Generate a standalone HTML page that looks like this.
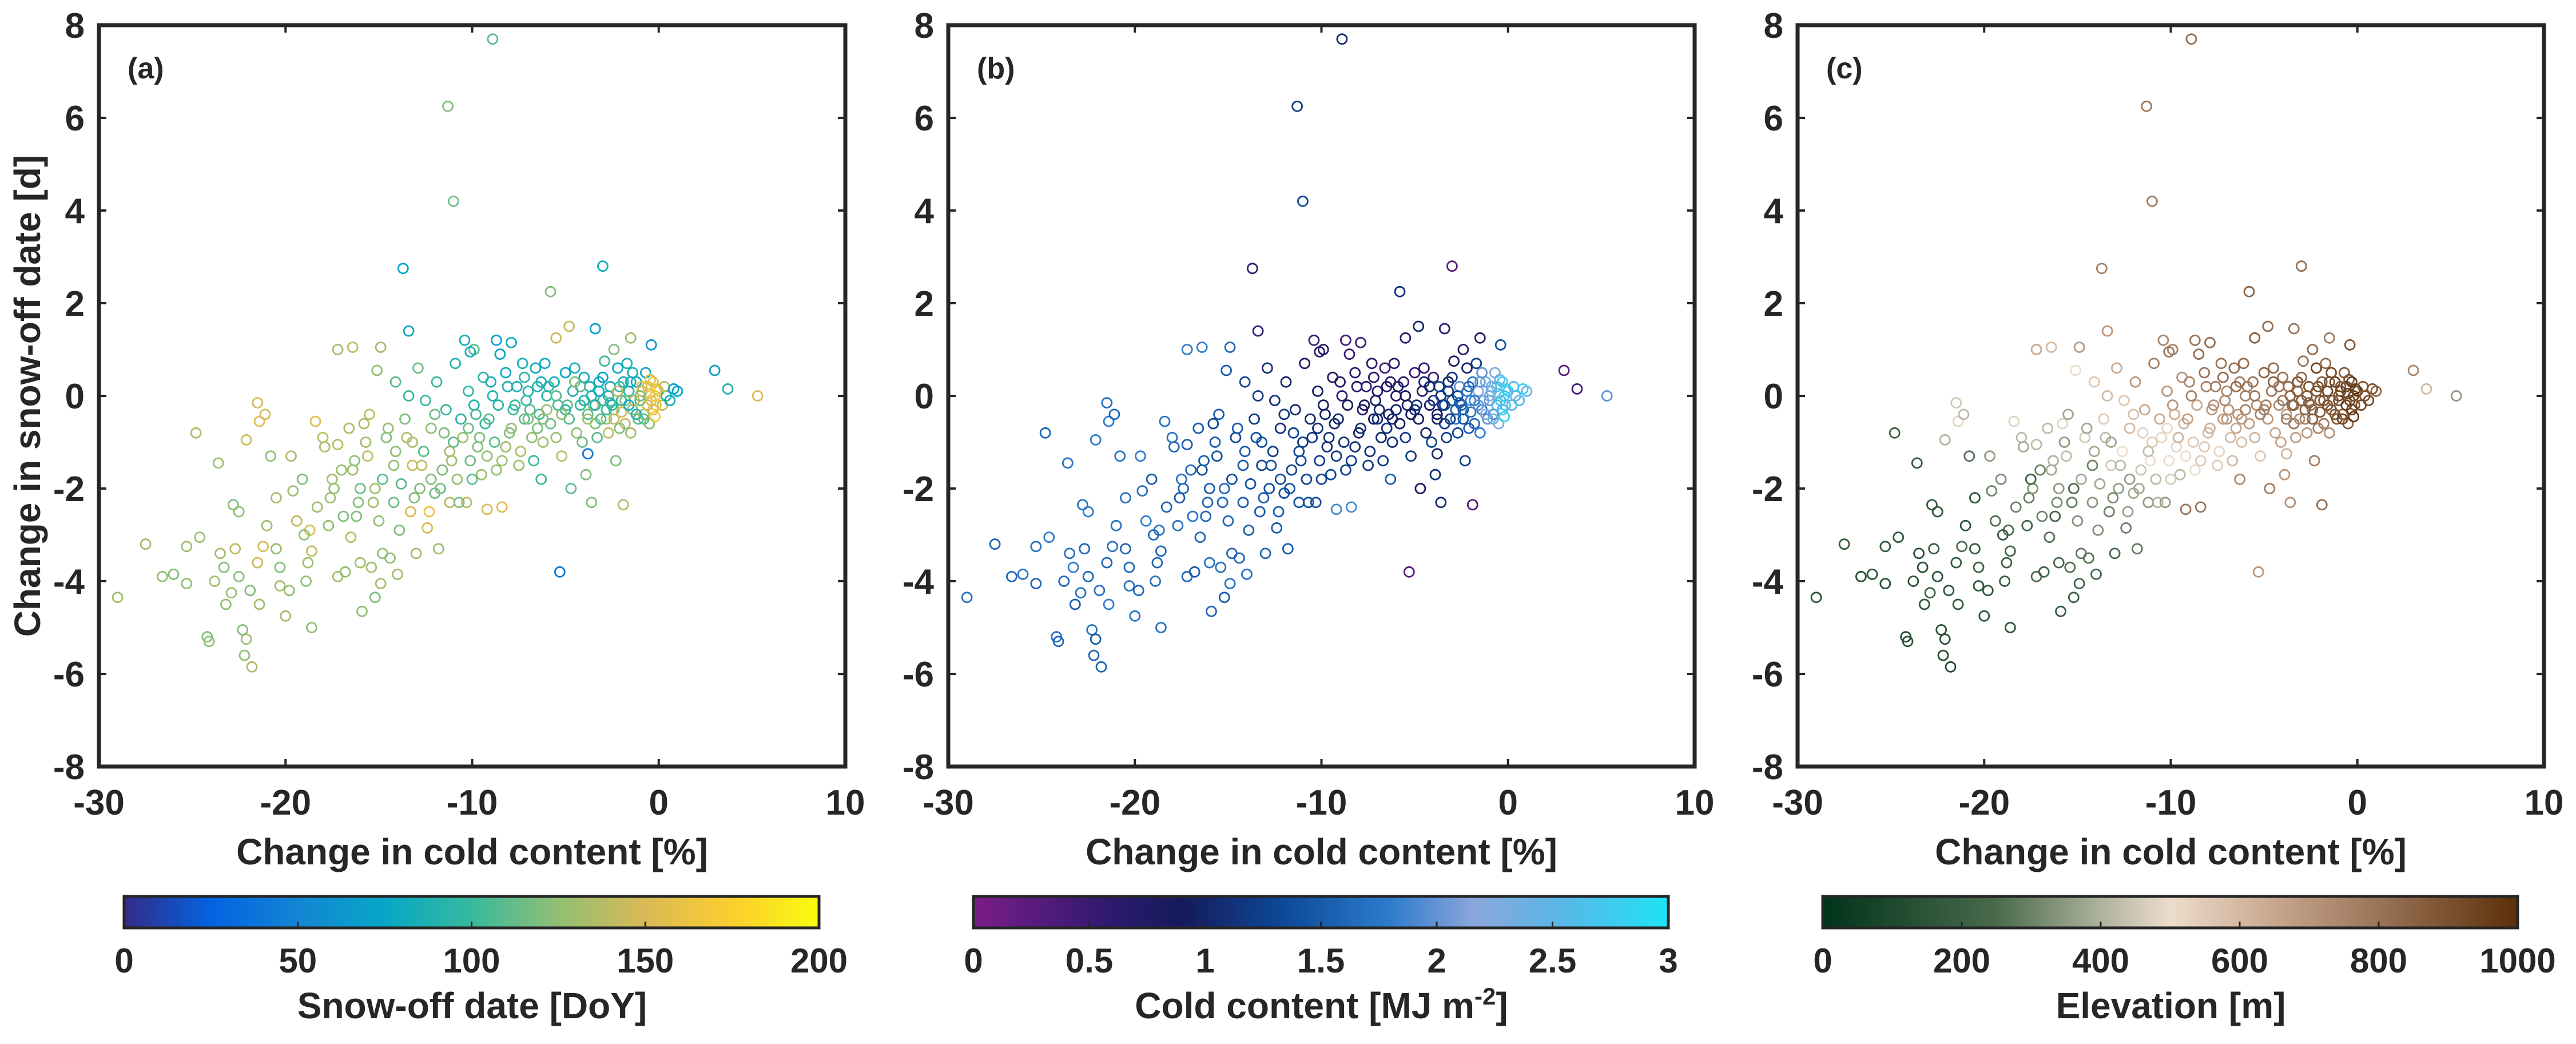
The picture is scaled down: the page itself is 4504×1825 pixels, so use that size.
<!DOCTYPE html>
<html><head><meta charset="utf-8">
<style>
html,body{margin:0;padding:0;background:#fff;}
svg{display:block;}
text{font-family:"Liberation Sans",Arial,sans-serif;font-weight:bold;fill:#262626;}
</style></head>
<body>
<svg id="fig" width="4504" height="1825" viewBox="0 0 4504 1825" xmlns="http://www.w3.org/2000/svg">
<defs>
<linearGradient id="gParula" x1="0" x2="1" y1="0" y2="0">
<stop offset="0" stop-color="#352a87"/><stop offset="0.125" stop-color="#0363e1"/><stop offset="0.25" stop-color="#1485d4"/><stop offset="0.375" stop-color="#06a7c6"/><stop offset="0.5" stop-color="#38b99e"/><stop offset="0.625" stop-color="#92bf73"/><stop offset="0.75" stop-color="#d9ba56"/><stop offset="0.875" stop-color="#fcce2e"/><stop offset="1" stop-color="#f9fb0e"/>
</linearGradient>
<linearGradient id="gCold" x1="0" x2="1" y1="0" y2="0">
<stop offset="0" stop-color="#7b1c88"/><stop offset="0.2" stop-color="#2d1a6e"/><stop offset="0.3" stop-color="#151a5c"/><stop offset="0.45" stop-color="#0d4a9a"/><stop offset="0.6" stop-color="#2e7ccc"/><stop offset="0.72" stop-color="#8aa6db"/><stop offset="0.85" stop-color="#58b8e8"/><stop offset="1" stop-color="#1fe3f5"/>
</linearGradient>
<linearGradient id="gElev" x1="0" x2="1" y1="0" y2="0">
<stop offset="0" stop-color="#00331a"/><stop offset="0.25" stop-color="#4a6a4c"/><stop offset="0.4" stop-color="#aeb39c"/><stop offset="0.5" stop-color="#eddccb"/><stop offset="0.65" stop-color="#c8a78e"/><stop offset="0.8" stop-color="#9a7458"/><stop offset="1" stop-color="#5c2f08"/>
</linearGradient>
</defs>
</svg>
<script>
// ---- data ----
const changeColdContent = [
-8.9,-11.3,-11,-13.7,-3,-5.8,-4.8,-13.4,-3.4,-10.4,-8.7,-7.9,-0.4,-1.5,-2.4,-17.2,-16.4,-14.9,-9.9,-10.1,-5.5,
3.0,3.7,5.3,1.0,-5.3,-3.8,-1.9,-3.6,-4.7,-3.9,-6.3,-2.3,-9.2,-8.4,
-29,-27.5,-26.6,-26,-25.3,-25.3,-24.8,-24.6,-24.2,-24.1,-23.8,-23.6,-23.3,-23.2,-22.9,-22.7,-22.5,-22.3,-22.2,-22.1,-21.8,-21.9,-21.5,-21.4,-21.2,
-22.8,-21.5,-21.4,-21.1,-20.8,-22.1,-20.5,-20.3,-20.3,-20,-19.8,-19.4,-19.6,-19.1,-18.8,-18.7,-18.6,-18.9,-19.7,-18.4,-18.3,-18,-17.9,-17.6,-17.4,
-17.2,-18.6,-17.2,-16.9,-16.8,-16.5,-16.4,-16.3,-16.1,-16,-16,-15.8,-15.6,-15.9,-15.4,-15.2,-15,-14.9,-14.8,-14.6,-14.4,-14.2,-14,-14.8,-13.9,
-13.8,-13.6,-13.3,-13.2,-13,-12.8,-12.6,-12.4,-12.2,-12,-11.8,-11.6,-11.4,-11.2,-11,-10.8,-10.6,-10.3,-10.1,-9.9,-9.7,-9.5,-9.3,-9.0,-8.8,
-8.6,-8.4,-8.2,-8.0,-7.8,-7.6,-7.4,-7.2,-7.0,-6.8,-6.6,-6.4,-6.2,-6.0,-5.8,-5.6,-5.4,-5.2,-5.0,-4.8,-4.6,-4.4,-4.2,-4.0,-3.8,
-3.6,-3.4,-3.2,-3.0,-2.8,-2.6,-2.4,-2.2,-2.0,-1.8,-1.6,-1.4,-1.2,-1.0,-0.8,-0.6,-0.4,-0.2,0.0,0.2,0.4,-0.3,-0.1,-0.5,-1.1,
-1.5,-2.1,-2.7,-3.3,-0.7,-1.7,-2.9,-4.5,-5.9,-6.9,-7.9,-8.9,-9.8,-10.5,-11.5,-12.5,-13.5,-14.5,-15.5,-12.9,-11.9,-10.9,-9.4,-8.5,-7.3,
-6.1,-15.1,-14.1,-13.4,-12.0,-10.2,-9.1,-8.1,-7.1,-6.5,-5.5,-4.1,-3.1,-2.5,-1.3,-0.9,-0.15,0.3,0.6,0.8,-0.45,-1.9,-3.7,-4.9,-6.3,
-7.7,-9.6,-11.1,-12.7,-14.1,-15.7,-17.0,-16.6,-13.1,-11.7,-10.0,-8.7,-7.5,-6.7,-17.7,-15.3,-12.3,-10.7,
-0.3,-0.6,-0.9,-1.2,-1.5,-1.8,-2.1,-2.4,-2.7,-3.0,-3.5,-4.0,-4.5,-5.0,-5.5,-6.0,-6.5,-7.0,-0.2,-0.8,-1.4,-2.0,-2.6,-3.2,-3.8,
-0.5,-1.0,-1.6,-2.2,-2.8,-3.4,-4.2,-5.2,-6.2,-7.2,-8.2,-9.2,-10.2,-11.2,-12.2,-13.2,-14.2,-15.2,-16.2,-17.5,-19.0,-20.5,-21.0,-22.5,-23.5
];
const changeSnowOff = [
7.7,6.25,4.2,2.75,2.8,2.25,1.5,1.4,1.45,1.2,1.2,1.15,1.1,1.25,1.0,1.0,1.05,1.05,1.0,0.95,1.25,
0.55,0.15,0.0,0.1,-3.8,-1.25,-2.35,-2.3,-2.0,-1.7,-1.8,-1.4,-2.45,-2.4,
-4.35,-3.2,-3.9,-3.85,-4.05,-3.25,-0.8,-3.05,-5.2,-5.3,-4.0,-1.45,-3.7,-4.5,-4.25,-3.3,-2.5,-5.05,-5.6,-5.25,-5.85,-4.2,-3.6,-4.5,-3.25,
-2.35,-0.15,-0.55,-0.4,-1.3,-0.95,-3.3,-4.1,-3.7,-4.75,-4.2,-2.7,-2.05,-1.8,-3.6,-2.9,-3.35,-4.0,-1.3,-0.55,-2.4,-0.9,-1.1,-2.2,-2.0,
-1.05,-5.0,-3.9,-2.6,-3.8,-3.05,-1.6,-1.4,-2.3,-3.6,-2.0,-0.6,-1.3,-4.65,-3.7,-4.35,-2.7,-4.05,-1.8,-0.9,-3.5,-2.3,-3.85,-3.4,-2.9,
-1.9,-0.5,-2.5,-1.5,-3.4,-2.0,-1.2,-2.85,-0.7,-2.1,-3.3,-1.6,-0.3,-2.3,-1.0,-1.8,-0.5,-2.3,-1.4,-0.2,-1.1,-1.7,-0.6,0.3,-1.0,
-0.2,-1.4,0.5,-0.8,-0.3,0.2,-1.2,-0.5,0.1,-0.9,0.6,-0.4,-1.0,0.0,-0.6,0.3,-0.2,-1.3,0.5,-0.5,0.1,-0.8,-0.2,0.4,-0.4,
0.0,-0.6,0.3,-0.1,-0.5,0.2,-0.3,0.6,-0.1,-0.6,0.1,-0.3,0.3,-0.1,-0.4,0.2,-0.1,0.0,0.1,-0.2,0.0,-0.3,0.15,-0.6,-0.5,
-0.8,-0.7,-0.8,-0.9,0.5,0.7,0.75,0.6,0.2,-0.3,-0.7,0.0,-0.4,-0.9,-0.8,-0.1,-0.9,-0.7,-0.4,0.6,0.3,0.7,0.4,0.9,0.7,
0.7,0.55,0.3,0.0,-0.4,0.1,-0.5,0.2,-0.1,-0.7,-0.9,-1.0,-0.5,-0.2,-0.1,0.2,-0.2,0.2,-0.1,0.15,0.35,0.3,0.2,-0.2,0.3,
-0.2,-0.9,-1.4,-1.5,-1.2,-1.0,-1.6,-0.7,-2.2,-2.0,-1.8,-1.6,-1.5,-1.4,-2.8,-2.3,-2.5,-2.3,
0.3,-0.2,0.1,-0.4,0.3,-0.1,0.2,-0.5,0.0,0.4,-0.2,-0.1,0.3,-0.3,0.0,-0.3,0.2,-0.5,-0.45,-0.5,0.5,-0.35,-0.15,0.1,-0.5,
0.05,0.0,-0.2,0.1,-0.3,-0.2,0.2,-0.4,-0.5,0.4,-1.1,-1.3,-0.7,-1.2,-1.8,-1.0,-1.5,-2.0,-2.6,-1.8,-3.0,-2.2,-2.8,-3.9,-3.4
];
const snowOffDoy = [
110,120,115,75,80,120,145,80,70,85,70,80,60,130,120,130,140,130,110,85,145,
70,90,150,75,40,40,135,120,110,120,100,120,150,155,
130,130,125,120,125,130,135,130,120,125,130,130,120,125,130,140,125,120,125,130,135,120,145,130,150,
120,150,155,150,125,145,125,130,120,130,125,140,130,120,130,150,140,125,135,155,130,140,135,130,125,
140,125,130,120,125,140,130,125,120,130,115,135,140,125,130,120,125,130,110,120,125,115,130,125,120,
110,120,150,145,130,120,110,150,125,115,130,120,100,135,110,125,95,140,115,90,120,130,100,85,110,
95,130,80,120,100,85,135,110,90,125,80,105,130,95,115,85,100,140,75,110,90,125,100,80,110,
90,120,80,100,130,85,110,75,95,140,90,120,80,100,130,160,150,165,170,140,90,155,160,120,110,
130,120,140,110,80,90,100,85,95,110,125,90,105,130,120,100,135,125,140,115,100,90,95,75,85,
80,125,110,100,115,95,110,90,100,120,130,115,105,95,150,160,165,140,80,70,155,85,90,110,85,
100,120,130,140,125,130,125,135,120,115,110,125,130,100,125,130,160,120,
160,150,140,90,80,120,100,140,90,70,130,85,120,95,110,130,90,120,170,110,85,150,100,80,130,
160,120,80,140,100,90,110,125,120,95,130,125,115,130,120,135,125,130,120,130,125,135,130,125,130
];
const coldContent = [
1.0,1.2,1.3,0.6,0.3,1.1,1.0,0.6,0.7,0.5,0.4,0.5,1.4,0.8,0.7,1.8,1.8,1.6,0.8,0.7,0.6,
0.3,0.4,2.0,2.4,0.3,1.0,0.4,1.0,0.9,1.1,1.5,1.2,1.9,1.9,
1.7,1.6,1.6,1.7,1.6,1.7,1.6,1.8,1.7,1.6,1.6,1.7,1.8,1.5,1.7,1.6,1.8,1.7,1.6,1.5,1.6,1.7,1.6,1.8,1.7,
1.7,1.7,1.8,1.6,1.7,1.8,1.6,1.7,1.6,1.7,1.6,1.8,1.7,1.5,1.6,1.7,1.6,1.7,1.8,1.7,1.6,1.7,1.6,1.5,1.6,
1.5,1.7,1.6,1.7,1.5,1.6,1.4,1.5,1.6,1.7,1.5,1.3,1.4,1.6,1.7,1.5,1.6,1.7,1.4,1.3,1.6,1.5,1.7,1.6,1.5,
1.4,1.2,1.5,1.3,1.6,1.4,1.2,1.5,1.1,1.4,1.5,1.3,1.0,1.4,1.2,1.3,1.0,1.4,1.2,0.9,1.1,1.3,1.0,0.7,1.1,
0.9,1.2,0.6,1.0,0.8,0.6,1.1,0.9,0.7,1.0,0.5,0.8,1.1,0.7,0.9,0.6,0.8,1.2,0.5,0.9,0.7,1.0,0.8,0.5,0.9,
1.0,1.2,0.9,1.5,1.7,2.0,1.4,1.0,1.9,1.6,2.2,1.8,2.4,2.0,1.9,2.5,2.6,2.7,2.8,2.5,2.3,2.6,2.9,2.2,2.0,
1.8,1.5,1.3,1.2,2.3,1.2,0.8,0.6,0.8,1.0,1.1,0.7,1.0,1.2,1.3,1.1,1.4,1.5,1.5,1.1,1.0,0.8,0.8,0.5,0.6,
0.6,1.5,1.3,1.2,1.2,0.9,1.0,0.8,0.9,1.1,1.2,1.3,1.2,1.6,2.1,2.3,2.7,2.5,2.6,2.8,2.5,1.8,1.3,1.1,0.7,
0.9,1.1,1.3,1.4,1.5,1.5,1.6,1.5,1.5,1.4,1.3,1.3,1.2,1.2,1.7,1.6,1.5,1.4,
2.8,2.6,2.4,2.2,2.0,1.8,1.6,1.4,1.3,1.2,1.1,1.2,1.0,1.1,0.9,1.0,0.8,1.1,2.9,2.4,2.0,1.7,1.5,1.2,1.0,
2.7,2.3,2.0,1.8,1.5,1.3,1.0,0.9,1.0,0.7,1.1,1.2,1.1,1.3,1.4,1.4,1.5,1.6,1.6,1.7,1.6,1.7,1.7,1.6,1.7
];
const elevation = [
820,800,780,760,820,850,820,700,800,750,800,830,880,780,830,650,600,700,760,800,870,
750,600,350,850,700,620,820,720,780,700,750,780,800,800,
150,180,120,150,130,170,200,160,120,140,150,170,130,150,200,180,160,140,120,130,110,150,180,160,250,
170,450,480,420,260,400,180,150,200,150,170,250,300,320,200,250,220,180,350,480,300,420,380,280,330,
420,150,250,300,220,260,380,400,320,240,350,480,420,180,260,200,330,220,380,450,260,340,230,280,330,
380,550,300,450,250,350,500,300,600,380,280,450,650,350,550,420,650,350,500,700,520,420,620,750,550,
650,550,800,600,700,780,520,680,750,600,820,700,580,760,680,800,720,560,850,700,780,650,730,820,700,
860,800,920,880,760,900,840,950,900,780,940,880,960,920,850,980,940,960,980,930,900,950,980,860,880,
720,750,700,680,880,820,800,830,780,700,620,760,640,520,480,560,420,380,380,640,700,760,720,820,800,
820,500,560,600,580,700,680,760,740,650,620,660,720,800,850,870,900,880,920,900,880,860,820,760,780,
720,620,500,420,380,350,300,420,320,380,460,500,560,600,220,280,360,400,
960,940,930,900,920,880,900,860,880,840,820,800,860,780,800,760,820,700,980,930,920,880,860,860,780,
950,920,900,880,860,840,800,760,700,820,560,500,520,430,360,380,300,250,220,200,180,160,150,140,130
];
const xTicks = [-30,-20,-10,0,10];
const yTicks = [-8,-6,-4,-2,0,2,4,6,8];
const doyTicks = [0,50,100,150,200];
const ccTicks = ["0","0.5","1","1.5","2","2.5","3"];
const elevTicks = [0,200,400,600,800,1000];

// ---- colormaps ----
const parula = [[0,"#352a87"],[0.125,"#0363e1"],[0.25,"#1485d4"],[0.375,"#06a7c6"],[0.5,"#38b99e"],[0.625,"#92bf73"],[0.75,"#d9ba56"],[0.875,"#fcce2e"],[1,"#f9fb0e"]];
const coldMap = [[0,"#7b1c88"],[0.2,"#2d1a6e"],[0.3,"#151a5c"],[0.45,"#0d4a9a"],[0.6,"#2e7ccc"],[0.72,"#8aa6db"],[0.85,"#58b8e8"],[1,"#1fe3f5"]];
const elevMap = [[0,"#00331a"],[0.25,"#4a6a4c"],[0.4,"#aeb39c"],[0.5,"#eddccb"],[0.65,"#c8a78e"],[0.8,"#9a7458"],[1,"#5c2f08"]];
function hex(h){return [parseInt(h.substr(1,2),16),parseInt(h.substr(3,2),16),parseInt(h.substr(5,2),16)];}
function cmap(m,t){t=Math.max(0,Math.min(1,t));for(let i=1;i<m.length;i++){if(t<=m[i][0]){const a=hex(m[i-1][1]),b=hex(m[i][1]);const f=(t-m[i-1][0])/(m[i][0]-m[i-1][0]);return "rgb("+a.map((v,k)=>Math.round(v+(b[k]-v)*f)).join(",")+")";}}return m[m.length-1][1];}

const NS="http://www.w3.org/2000/svg";
const svg=document.getElementById('fig');
function mk(tag,attrs,parent){const e=document.createElementNS(NS,tag);for(const k in attrs)e.setAttribute(k,attrs[k]);(parent||svg).appendChild(e);return e;}

const panels=[
 {left:173,label:"(a)",vals:snowOffDoy,min:0,max:200,map:parula,grad:"gParula",ticks:doyTicks,cbTitle:"Snow-off date [DoY]",key:"a"},
 {left:1658,label:"(b)",vals:coldContent,min:0,max:3,map:coldMap,grad:"gCold",ticks:ccTicks,cbTitle:"Cold content [MJ m",key:"b"},
 {left:3143,label:"(c)",vals:elevation,min:0,max:1000,map:elevMap,grad:"gElev",ticks:elevTicks,cbTitle:"Elevation [m]",key:"c"}
];
const W=1305, TOP=44, BOT=1340, H=BOT-TOP;
const xmin=-30,xmax=10,ymin=-8,ymax=8;

panels.forEach(p=>{
  const g=mk('g',{});
  
  
  const xs=v=>p.left+(v-xmin)/(xmax-xmin)*W;
  const ys=v=>TOP+(ymax-v)/(ymax-ymin)*H;
  const pts=mk('g',{},g);
  
  
  const n=Math.min(changeColdContent.length,changeSnowOff.length,p.vals.length);
  for(let i=0;i<n;i++){
    const c=mk('circle',{cx:xs(changeColdContent[i]).toFixed(1),cy:ys(changeSnowOff[i]).toFixed(1),r:8.5,fill:'none',stroke:cmap(p.map,(p.vals[i]-p.min)/(p.max-p.min)),'stroke-width':2.8},pts);
    
    
  }
  const box=mk('rect',{x:p.left,y:TOP,width:W,height:H,fill:'none',stroke:'#262626','stroke-width':7},g);
  
  
  xTicks.forEach(t=>{
    const x=xs(t);
    if(t>xmin&&t<xmax){
      const tk=mk('path',{d:`M${x},${BOT}v-13M${x},${TOP}v13`,stroke:'#262626','stroke-width':4},g);
      
      
    }
    const tl=mk('text',{x:x,y:1424,'text-anchor':'middle','font-size':62},g);
    tl.textContent=t;
    
    
  });
  yTicks.forEach(t=>{
    const y=ys(t);
    if(t>ymin&&t<ymax){
      const tk=mk('path',{d:`M${p.left},${y}h13M${p.left+W},${y}h-13`,stroke:'#262626','stroke-width':4},g);
      
      
    }
    const tl=mk('text',{x:p.left-25,y:y+22,'text-anchor':'end','font-size':62},g);
    tl.textContent=t;
    
    
  });
  const pl=mk('text',{x:p.left+50,y:137,'font-size':52},g);
  pl.textContent=p.label;
  
  
  const xl=mk('text',{x:p.left+W/2,y:1511,'text-anchor':'middle','font-size':64},g);
  xl.textContent="Change in cold content [%]";
  
  
  const cbx=p.left+44, cbw=W-90, cby=1567, cbh=55;
  const cb=mk('rect',{x:cbx,y:cby,width:cbw,height:cbh,fill:`url(#${p.grad})`,stroke:'#262626','stroke-width':5},g);
  
  
  p.ticks.forEach((t,i)=>{
    const x=cbx+i/(p.ticks.length-1)*cbw;
    if(i>0&&i<p.ticks.length-1){
      const tk=mk('path',{d:`M${x},${cby+cbh}v-11`,stroke:'#262626','stroke-width':3},g);
      
      
    }
    const tl=mk('text',{x:x,y:1700,'text-anchor':'middle','font-size':60},g);
    tl.textContent=t;
    
    
  });
  const ct=mk('text',{x:p.left+W/2,y:1780,'text-anchor':'middle','font-size':64},g);
  ct.textContent=p.cbTitle;
  if(p.key==='b'){
    const sup=mk('tspan',{dy:-24,'font-size':42},ct);sup.textContent="-2";
    const cl=mk('tspan',{dy:24,'font-size':64},ct);cl.textContent="]";
  }
  
  
});
const yl=mk('text',{x:0,y:0,'text-anchor':'middle','font-size':64,transform:'translate(70,692) rotate(-90)'});
yl.textContent="Change in snow-off date [d]";


</script>
</body></html>
